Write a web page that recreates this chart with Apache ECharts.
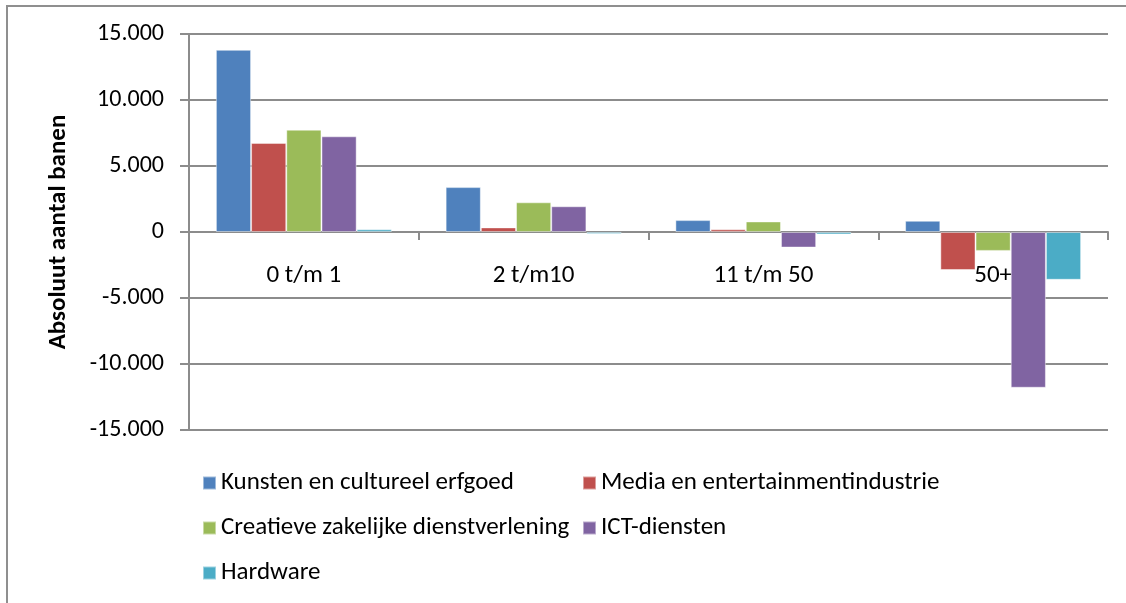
<!DOCTYPE html>
<html>
<head>
<meta charset="utf-8">
<script src="https://cdn.jsdelivr.net/npm/echarts@6/dist/echarts.min.js"></script>
<style>
  html, body { margin: 0; padding: 0; background: #fff; }
  #frame {
    position: absolute; left: 6px; top: 5px; width: 1120px; height: 598px;
    border-left: 2px solid #8f8f8f; border-top: 2px solid #8f8f8f;
  }
  #chart { position: absolute; left: 0; top: 0; width: 1126px; height: 603px; }
</style>
</head>
<body>
<div id="frame"></div>
<div id="chart"></div>
<script>
// categorieën (bedrijfsgrootte)
const categories = ['0 t/m 1', '2 t/m10', '11 t/m 50', '50+']

// absoluut aantal banen per sector
const kunsten = [13800, 3400, 900, 850]
const media = [6750, 350, 200, -2880]
const creatief = [7750, 2250, 800, -1430]
const ict = [7250, 1950, -1180, -11800]
const hardware = [200, -150, -180, -3620]

const seriesNames = [
  'Kunsten en cultureel erfgoed',
  'Media en entertainmentindustrie',
  'Creatieve zakelijke dienstverlening',
  'ICT-diensten',
  'Hardware'
]
const seriesData = [kunsten, media, creatief, ict, hardware]
const colors = ['#4f81bd', '#c0504d', '#9bbb59', '#8064a2', '#4bacc6']

const yTicks = [-15000, -10000, -5000, 0, 5000, 10000, 15000]

const fmt = v => {
  if (v === 0) return '0'
  const s = Math.abs(v).toString().replace(/\B(?=(\d{3})+(?!\d))/g, '.')
  return (v < 0 ? '-' : '') + s
}

const gray = '#8c8c8c'
const font = 'Carlito, Lato, "Open Sans", sans-serif'

// legenda: elk item apart neerzetten (3 rijen, 2 kolommen)
const legendPos = [
  { left: 202, top: 469 },
  { left: 582, top: 469 },
  { left: 202, top: 514 },
  { left: 582, top: 514 },
  { left: 202, top: 559 }
]
const legends = seriesNames.map((name, i) => ({
  data: [name],
  left: legendPos[i].left,
  top: legendPos[i].top,
  padding: 0,
  icon: 'rect',
  itemWidth: 13,
  itemHeight: 13,
  selectedMode: false,
  textStyle: { fontFamily: font, fontSize: 25, color: '#000', lineHeight: 28 }
}))

const chart = echarts.init(document.getElementById('chart'))

const option = {
  backgroundColor: 'transparent',
  animation: false,
  color: colors,
  legend: legends,
  grid: { left: 189, right: 18, top: 34, bottom: 173, containLabel: false },
  xAxis: {
    type: 'category',
    data: categories,
    axisLine: { onZero: true, lineStyle: { color: gray, width: 2 } },
    axisTick: { show: true, length: 8, lineStyle: { color: gray, width: 2 } },
    // labels staan net onder de nullijn, niet onderaan het plotvlak
    axisLabel: { margin: -167, fontFamily: font, fontSize: 25, color: '#000' },
    splitLine: { show: false }
  },
  yAxis: {
    type: 'value',
    min: yTicks[0],
    max: yTicks[yTicks.length - 1],
    interval: 5000,
    name: 'Absoluut aantal banen',
    nameLocation: 'middle',
    nameGap: 118,
    nameRotate: 90,
    nameTextStyle: { fontFamily: font, fontSize: 25, fontWeight: 'bold', color: '#000' },
    axisLine: { show: true, lineStyle: { color: gray, width: 2 } },
    axisTick: { show: true, length: 9, lineStyle: { color: gray, width: 2 } },
    axisLabel: { margin: 25, fontFamily: font, fontSize: 24, color: '#000', formatter: fmt },
    splitLine: { show: true, lineStyle: { color: gray, width: 2 } }
  },
  series: seriesNames.map((name, i) => ({
    name,
    type: 'bar',
    data: seriesData[i],
    barGap: '0%',
    barCategoryGap: '23.4%',
    itemStyle: { color: colors[i], borderColor: 'rgba(255,255,255,0.45)', borderWidth: 1 }
  }))
}

chart.setOption(option)
window.addEventListener('resize', () => chart.resize())
</script>
</body>
</html>
